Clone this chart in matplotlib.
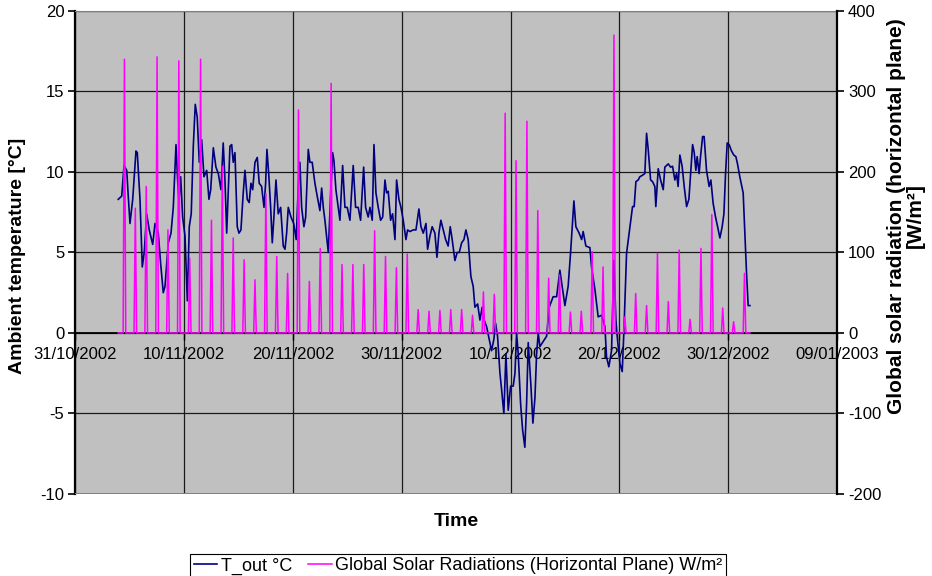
import numpy as np
import pandas as pd
import matplotlib
matplotlib.use("Agg")
import matplotlib.pyplot as plt
import matplotlib.dates as mdates

plt.rcParams['font.family'] = ['Liberation Sans', 'DejaVu Sans']
plt.rcParams['axes.unicode_minus'] = False

# --- data (time in days since 31/10/2002 00:00) ---
temp_days = [
    3.93, 4.25, 4.46, 4.71, 4.85, 5.01, 5.26, 5.56, 5.68, 5.93, 6.14, 6.32, 6.54, 6.78,
    7.10, 7.31, 7.61, 7.83, 8.07, 8.23, 8.53, 8.78, 8.99, 9.24, 9.39, 9.51, 9.67, 9.85,
    10.07, 10.28, 10.46, 10.64, 10.83, 11.01, 11.19, 11.38, 11.60, 11.81, 12.06, 12.27,
    12.43, 12.67, 12.91, 13.13, 13.37, 13.58, 13.74, 13.90, 14.20, 14.36, 14.50, 14.66,
    14.87, 15.03, 15.21, 15.42, 15.58, 15.79, 15.97, 16.13, 16.29, 16.50, 16.71, 16.89,
    17.11, 17.33, 17.48, 17.60, 17.78, 17.94, 18.09, 18.24, 18.43, 18.64, 18.86, 19.10,
    19.26, 19.41, 19.56, 19.81, 20.06, 20.29, 20.48, 20.63, 20.79, 21.00, 21.16, 21.40,
    21.55, 21.76, 22.01, 22.22, 22.47, 22.63, 22.78, 22.93, 23.24, 23.46, 23.64, 23.76,
    23.94, 24.15, 24.31, 24.56, 24.77, 24.98, 25.23, 25.53, 25.75, 25.99, 26.21, 26.49,
    26.67, 26.91, 27.07, 27.28, 27.44, 27.62, 27.83, 28.05, 28.24, 28.45, 28.60, 28.75,
    28.97, 29.15, 29.37, 29.52, 29.73, 29.92, 30.13, 30.38, 30.53, 30.74, 31.05, 31.30,
    31.57, 31.76, 31.97, 32.22, 32.37, 32.58, 32.79, 33.04, 33.23, 33.41, 33.59, 33.81,
    34.03, 34.26, 34.45, 34.63, 34.88, 35.09, 35.28, 35.50, 35.71, 35.89, 36.10, 36.35,
    36.56, 36.72, 36.97, 37.18, 37.39, 37.57, 37.79, 38.03, 38.25, 38.46, 38.62, 38.80,
    39.02, 39.17, 39.38, 39.57, 39.78, 40.00, 40.24, 40.40, 40.55, 40.70, 40.92, 41.10,
    41.31, 41.47, 41.62, 41.87, 42.05, 42.24, 42.39, 42.54, 42.69, 43.31, 43.55, 43.91,
    44.23, 44.53, 44.99, 45.29, 45.51, 45.82, 46.00, 46.30, 46.53, 46.67, 46.92, 47.29,
    47.44, 47.75, 48.05, 48.36, 48.67, 48.82, 49.03, 49.28, 49.49, 49.68, 49.77, 50.05,
    50.26, 50.41, 50.66, 50.90, 51.21, 51.36, 51.52, 51.73, 51.88, 52.13, 52.34, 52.50,
    52.65, 52.87, 53.05, 53.26, 53.35, 53.57, 53.79, 54.03, 54.18, 54.49, 54.71, 54.89,
    55.10, 55.26, 55.40, 55.56, 55.77, 55.96, 56.18, 56.39, 56.57, 56.73, 56.88, 57.03,
    57.15, 57.33, 57.46, 57.65, 57.79, 58.01, 58.25, 58.41, 58.62, 58.84, 59.03, 59.24,
    59.45, 59.61, 59.76, 59.91, 60.09, 60.31, 60.52, 60.71, 60.86, 61.07, 61.23, 61.38,
    61.53, 61.69, 61.84, 62.00,
]
temp_vals = [
    8.3, 8.5, 10.4, 10.1, 8.5, 6.8, 8.3, 11.3, 11.2, 8.3, 4.1, 5.0, 7.4, 6.4,
    5.5, 6.8, 6.2, 4.3, 2.5, 2.9, 5.6, 6.2, 7.8, 11.7, 9.5, 8.2, 9.7, 7.2,
    6.0, 2.0, 6.6, 7.4, 11.6, 14.2, 13.4, 10.6, 12.0, 9.7, 10.1, 8.3,
    8.9, 11.5, 10.3, 9.9, 8.9, 11.8, 9.5, 6.2, 11.6, 11.7, 10.6, 11.2,
    6.6, 6.2, 6.4, 8.7, 10.1, 8.3, 8.1, 9.3, 8.9, 10.6, 10.9, 9.3,
    9.1, 7.8, 9.3, 11.4, 9.7, 7.8, 5.6, 7.2, 9.5, 7.4, 7.8, 5.4,
    5.2, 6.2, 7.8, 7.2, 6.8, 5.8, 9.1, 10.6, 7.8, 6.6, 7.2, 11.4,
    10.6, 10.6, 9.3, 8.5, 7.6, 9.0, 7.8, 7.0, 5.0, 8.7, 11.2, 10.7,
    8.9, 7.8, 7.0, 10.4, 7.8, 7.8, 7.0, 10.4, 7.8, 7.8, 7.0, 10.3,
    7.8, 7.2, 7.8, 7.0, 11.7, 8.7, 7.8, 7.0, 7.2, 9.5, 8.7, 8.8,
    7.0, 7.4, 5.8, 9.5, 8.3, 7.8, 7.0, 5.8, 6.4, 6.3, 6.4, 6.4,
    7.7, 6.6, 6.2, 6.8, 5.2, 6.0, 6.6, 6.2, 4.7, 6.2, 7.0, 6.4,
    5.8, 5.4, 6.6, 5.8, 4.5, 5.0, 5.0, 5.6, 5.8, 6.4, 5.8, 3.5,
    2.9, 1.6, 1.8, 0.8, 1.6, 0.8, 0.4, -0.4, -1.1, -0.4, 0.6, -0.2,
    -2.5, -3.5, -5.0, -1.3, -4.8, -3.3, -3.3, -2.5, 0.0, -1.3, -4.4, -6.0,
    -7.1, -4.4, -0.6, -3.3, -5.6, -4.0, -1.3, 0.0, -0.85, -0.2, 1.6, 2.25,
    2.25, 3.9, 1.7, 2.9, 4.95, 8.2, 6.6, 6.2, 5.8, 6.3, 5.4, 5.3,
    4.1, 2.7, 1.0, 1.1, 0.4, -1.5, -2.1, -1.1, 4.5, 0.8, 0.0, -1.9,
    -2.4, 0.0, 4.95, 6.2, 7.85, 7.85, 9.4, 9.5, 9.7, 9.8, 9.9, 12.4,
    11.4, 9.5, 9.4, 9.1, 7.85, 10.2, 9.5, 8.9, 10.3, 10.5, 10.3, 10.35,
    9.5, 9.9, 9.1, 11.05, 10.35, 9.1, 7.85, 8.3, 10.1, 11.7, 11.2, 10.1,
    10.95, 9.9, 10.95, 12.2, 12.2, 10.1, 9.1, 9.5, 8.05, 7.2, 6.6, 5.9,
    6.6, 7.4, 9.9, 11.8, 11.7, 11.3, 11.05, 10.95, 10.5, 9.7, 9.2, 8.7,
    6.2, 3.7, 1.7, 1.7,
]

# daily midday peak of global solar radiation, 04/11/2002 .. 01/01/2003 (W/m2)
solar_first_day = 4
solar_peaks = [
    340, 155, 182, 343, 128, 338, 93, 340, 140, 207,
    118, 91, 66, 173, 95, 74, 277, 64, 105, 310,
    85, 85, 85, 127, 95, 81, 98, 29, 27, 28,
    29, 29, 22, 51, 48, 273, 214, 263, 152, 68,
    72, 26, 27, 101, 82, 370, 20, 49, 34, 99,
    39, 103, 17, 105, 147, 31, 14, 74,
]

tick_dates = ['2002-10-31', '2002-11-10', '2002-11-20', '2002-11-30',
              '2002-12-10', '2002-12-20', '2002-12-30', '2003-01-09']

base = pd.Timestamp('2002-10-31')

# solar: zero at night, one peak each day around noon
solar_days = [temp_days[0]]
solar_vals = [0]
for i, peak in enumerate(solar_peaks):
    d = solar_first_day + i
    solar_days += [d + 0.38, d + 0.5, d + 0.62]
    solar_vals += [0, peak, 0]
solar_days.append(temp_days[-1])
solar_vals.append(0)

t_temp = base + pd.to_timedelta(temp_days, unit='D')
t_solar = base + pd.to_timedelta(solar_days, unit='D')

fig = plt.figure(figsize=(9.32, 5.76), dpi=100)
ax = fig.add_axes([0.081, 0.1424, 0.817, 0.8386])
ax.set_facecolor('#C0C0C0')

ax.plot(t_temp, temp_vals, color='#000080', lw=1.2, label='T_out °C', zorder=3)

ax.set_ylim(-10, 20)
ax.set_yticks(np.arange(-10, 21, 5))
ax.set_xlim(pd.Timestamp(tick_dates[0]), pd.Timestamp(tick_dates[-1]))
ax.set_xticks([pd.Timestamp(t) for t in tick_dates])
ax.xaxis.set_major_formatter(mdates.DateFormatter('%d/%m/%Y'))

ax.grid(True, color='#1a1a1a', lw=0.9)
ax.set_axisbelow(True)

# x axis sits on the zero line
ax.spines['bottom'].set_position(('data', 0))
ax.spines['bottom'].set_color('black')
ax.spines['bottom'].set_linewidth(1.3)
ax.spines['top'].set_color('#808080')
ax.spines['right'].set_visible(False)
ax.spines['left'].set_color('black')
ax.spines['left'].set_linewidth(1.6)
ax.axhline(-10, color='#808080', lw=1.4, zorder=2.6)

ax.tick_params(axis='x', direction='out', length=5, width=1, labelsize=12, pad=5)
ax.tick_params(axis='y', direction='out', length=5, width=1.2, labelsize=12, pad=3)

ax2 = ax.twinx()
ax2.plot(t_solar, solar_vals, color='#FF00FF', lw=1.1,
         label='Global Solar Radiations (Horizontal Plane) W/m²', zorder=3)
ax2.set_ylim(-200, 400)
ax2.set_yticks(np.arange(-200, 401, 100))
for s in ['top', 'bottom', 'left']:
    ax2.spines[s].set_visible(False)
ax2.spines['right'].set_color('black')
ax2.spines['right'].set_linewidth(1.6)
ax2.tick_params(axis='y', direction='out', length=5, width=1.2, labelsize=12, pad=3)

fig.text(18 / 932, 1 - 256 / 576, 'Ambient temperature [°C]', rotation=90,
         ha='center', va='center', fontsize=14, fontweight='bold')
fig.text(906 / 932, 1 - 216 / 576, 'Global solar radiation (horizontal plane)\n[W/m²]',
         rotation=90, ha='center', va='center', multialignment='center',
         fontsize=15, fontweight='bold', linespacing=0.95)
fig.text(456 / 932, 1 - 522 / 576, 'Time', ha='center', va='center',
         fontsize=14, fontweight='bold')

h1, l1 = ax.get_legend_handles_labels()
h2, l2 = ax2.get_legend_handles_labels()
leg = fig.legend(h1 + h2, l1 + l2, loc='center', bbox_to_anchor=(458 / 932, 1 - 566 / 576),
                 ncol=2, fontsize=13, frameon=True, fancybox=False, framealpha=1,
                 edgecolor='black', handlelength=1.3, handletextpad=0.2,
                 columnspacing=0.9, borderpad=0.2, borderaxespad=0)
leg.get_frame().set_linewidth(0.8)

fig.savefig('out.png', dpi=100, facecolor='white')
